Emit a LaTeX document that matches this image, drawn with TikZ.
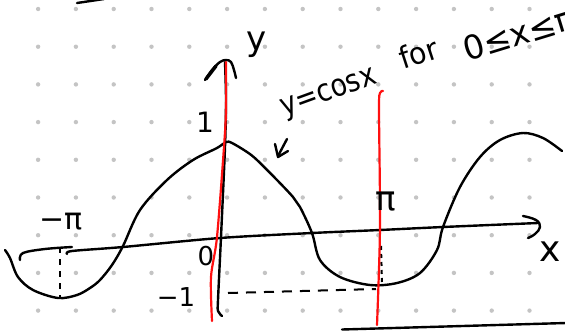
\documentclass[tikz,border=0pt]{standalone}
\usepackage{fontspec}
\setmainfont{DejaVu Sans}
\newcommand\hfs[1]{\fontsize{#1}{#1}\selectfont}
\definecolor{dotgray}{HTML}{C4C4C4}
\definecolor{penred}{HTML}{FF1010}
\begin{document}
\begin{tikzpicture}[x=1pt,y=-1pt,
  ink/.style={line width=2.4pt, line cap=round, line join=round, draw=black},
  redline/.style={line width=2.2pt, line cap=round, line join=round, draw=penred},
  dashline/.style={line width=2pt, draw=black, dash pattern=on 10pt off 8pt},
  lab/.style={inner sep=0pt, text=black}]
\useasboundingbox (0,0) rectangle (565,330);
\fill[white] (0,0) rectangle (565,330);
\begin{scope}
\clip (0,0) rectangle (565,330);
% dot grid
\foreach \i in {0,...,13}{\foreach \j in {0,...,8}{
  \fill[dotgray] ({38.1+37.8*\i},{9+37.7*\j}) circle (2.2pt);}}
% stray strokes
\draw[ink] (77,3) -- (104,-1);
\draw[ink] (342,329.5) -- (566,323);
% x axis
\draw[ink] plot[smooth, tension=0.6] coordinates {(20,260) (23,253) (45,249) (72,247)};
\draw[ink] plot[smooth, tension=0.5] coordinates {(67,254) (72,251) (123,247) (220,238) (312,233) (380,230) (443,227) (538,223)};
\draw[ink] plot[smooth, tension=0.7] coordinates {(523,216) (536,220) (540,227) (535,234) (528,238)};
% y axis
\draw[ink] plot[smooth, tension=0.5] coordinates {(222,316) (218,311) (218,300) (221,237) (225,147) (226,100) (225,62)};
\draw[ink] plot[smooth, tension=0.6] coordinates {(205,80) (212,70) (220,62) (226,60) (231,62) (234,70) (236,78)};
\draw[ink, line width=3.4pt] (206,79) -- (216,66);
% cosine curve
\draw[ink] plot[smooth, tension=0.55] coordinates {(5,250) (10,258) (18,277) (33,290) (58,298) (77,295) (90,288) (100,280) (112,265) (123,246) (140,210) (167,180) (193,160) (217,148) (226,142) (232,143) (247,152) (257,160) (277,180) (293,197) (300,207) (312,233) (320,260) (340,277) (370,285) (397,283) (420,273) (437,250) (443,227) (460,187) (480,157) (500,140) (523,133) (543,138) (562,151)};
% dashed guides
\draw[dashline, dash pattern=on 6pt off 6pt] (60,247) -- (60,298);
\draw[dashline] (228,293) -- (376,289);
\draw[dashline, dash pattern=on 4pt off 4pt] (381,246) -- (382,283);
% small pointer arrow
\draw[ink] (287,139) -- (278,156);
\draw[ink] (275,144) -- (278,157) -- (288,151);
% red lines
\draw[redline] plot[smooth, tension=0.5] coordinates {(226,62) (226,110) (224,147) (217,237) (211,277) (212,321)};
\draw[redline] plot[smooth, tension=0.5] coordinates {(383,91) (380,93) (379,110) (380,227) (377,325)};
% labels
\node[lab] (ylab) at (257,45) {\hfs{34}y};
\node[lab] (xlab) at (550,252) {\hfs{36}x};
\node[lab] (one) at (205,122) {\hfs{28}1};
\node[lab] (zero) at (206,256) {\hfs{26}0};
\node[lab] (mone) at (176,297) {\hfs{26}−1};
\node[lab] (mpi) at (61,222) {\hfs{30}−π};
\node[lab] (pi) at (386,202) {\hfs{34}π};
\node[lab, anchor=base west, rotate=20] (cap1) at (284,117) {\hfs{31}\scalebox{0.87}[1]{y=cosx}};
\node[lab, anchor=base west, rotate=18] (cap2) at (403,70) {\hfs{30}\scalebox{0.95}[1]{for}};
\node[lab, anchor=base west, rotate=17] (cap3) at (467,62) {\hfs{33}0≤x≤π};
\end{scope}
\end{tikzpicture}
\end{document}
